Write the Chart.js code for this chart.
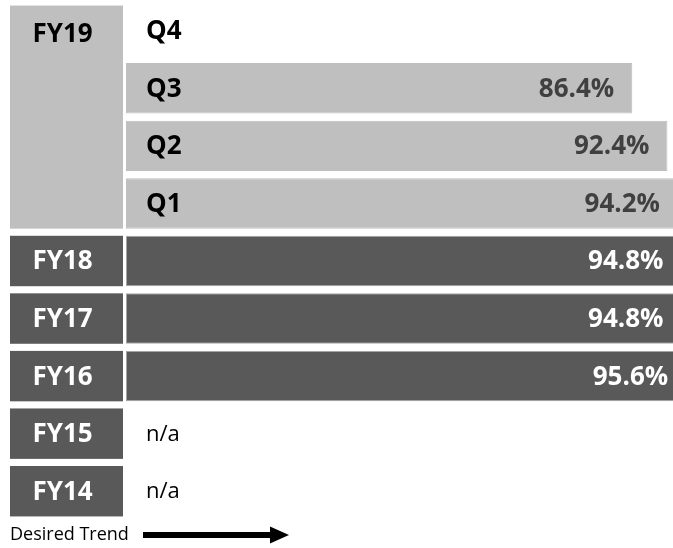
<!DOCTYPE html>
<html>
<head>
<meta charset="utf-8">
<title>Trend</title>
<script src="https://cdn.jsdelivr.net/npm/chart.js@4.4.1/dist/chart.umd.min.js"></script>
<style>
  html, body { margin: 0; padding: 0; background: #ffffff; }
  #wrap { position: relative; width: 673px; height: 548px; }
</style>
</head>
<body>
<div id="wrap"><canvas id="trendChart"></canvas></div>
<script>
// rows top to bottom
const rowLabels = ["Q4", "Q3", "Q2", "Q1", "FY18", "FY17", "FY16", "FY15", "FY14"];
const rowValues = [null, 86.4, 92.4, 94.2, 94.8, 94.8, 95.6, null, null];
// text written at the start of each row (quarters get their name, empty years get n/a)
const rowCaptions = ["Q4", "Q3", "Q2", "Q1", "", "", "", "n/a", "n/a"];
// fiscal year cell each row belongs to (consecutive rows get merged)
const yearCells = ["FY19", "FY19", "FY19", "FY19", "FY18", "FY17", "FY16", "FY15", "FY14"];
const currentYear = "FY19";
const trendText = "Desired Trend";

const LIGHT = "#bfbfbf";
const DARK = "#595959";
const BAR_PCT = 0.876;
const FONT = "'Open Sans', Lato, sans-serif";

const isCurrent = (i) => yearCells[i] === currentYear;

// merge consecutive rows with the same year label
function yearGroups() {
  const groups = [];
  yearCells.forEach((name, i) => {
    const last = groups[groups.length - 1];
    if (last && last.name === name) last.end = i;
    else groups.push({ name: name, start: i, end: i });
  });
  return groups;
}

const tableCells = {
  id: "tableCells",
  afterDatasetsDraw(chart) {
    const ctx = chart.ctx;
    const area = chart.chartArea;
    const xs = chart.scales.x;
    const ys = chart.scales.y;
    const band = ys.getPixelForValue(1) - ys.getPixelForValue(0);
    const half = (band * BAR_PCT) / 2;
    const colLeft = 10;
    const colRight = area.left - 3;

    ctx.save();
    ctx.textBaseline = "middle";

    // year cells on the left
    yearGroups().forEach((g) => {
      const top = ys.getPixelForValue(g.start) - half;
      const bottom = ys.getPixelForValue(g.end) + half;
      const current = g.name === currentYear;
      ctx.fillStyle = current ? LIGHT : DARK;
      ctx.fillRect(colLeft, top, colRight - colLeft, bottom - top);
      ctx.fillStyle = current ? "#000000" : "#ffffff";
      ctx.font = "bold 26px " + FONT;
      ctx.textAlign = "center";
      ctx.fillText(g.name, (colLeft + colRight) / 2 - 4, ys.getPixelForValue(g.start) + (current ? 4 : 1));
    });

    // row captions and value labels
    rowLabels.forEach((lbl, i) => {
      const cy = ys.getPixelForValue(i) + 1;
      const cap = rowCaptions[i];
      if (cap) {
        ctx.textAlign = "left";
        ctx.fillStyle = "#000000";
        ctx.font = (cap === "n/a" ? "22px " : "bold 26px ") + FONT;
        ctx.fillText(cap, area.left + 20, cy);
      }
      const v = rowValues[i];
      if (v !== null) {
        ctx.textAlign = "right";
        ctx.fillStyle = isCurrent(i) ? "#404040" : "#ffffff";
        ctx.font = "bold 26px " + FONT;
        ctx.fillText(v.toFixed(1) + "%", xs.getPixelForValue(v) - 18, cy);
      }
    });

    // trend note with arrow under the table
    const ty = area.bottom + 15;
    ctx.textAlign = "left";
    ctx.fillStyle = "#000000";
    ctx.font = "18px " + FONT;
    ctx.fillText(trendText, colLeft, ty);
    ctx.fillRect(143, ty - 3, 130, 6);
    ctx.beginPath();
    ctx.moveTo(270, ty - 8.5);
    ctx.lineTo(289, ty);
    ctx.lineTo(270, ty + 8.5);
    ctx.closePath();
    ctx.fill();
    ctx.restore();
  },
};

new Chart(document.getElementById("trendChart"), {
  type: "bar",
  data: {
    labels: rowLabels,
    datasets: [
      {
        data: rowValues,
        backgroundColor: rowLabels.map((l, i) => (isCurrent(i) ? LIGHT : DARK)),
        borderColor: rowLabels.map((l, i) => (isCurrent(i) ? LIGHT : "#a6a6a6")),
        borderWidth: 1,
        borderSkipped: false,
        barPercentage: BAR_PCT,
        categoryPercentage: 1,
      },
    ],
  },
  options: {
    indexAxis: "y",
    responsive: true,
    maintainAspectRatio: false,
    animation: false,
    layout: { padding: { left: 126, right: 0, top: 2, bottom: 28 } },
    plugins: { legend: { display: false }, tooltip: { enabled: false } },
    scales: {
      x: { type: "linear", min: 0, max: 93.35, display: false },
      y: { type: "category", display: false, offset: true },
    },
  },
  plugins: [tableCells],
});
</script>
</body>
</html>
